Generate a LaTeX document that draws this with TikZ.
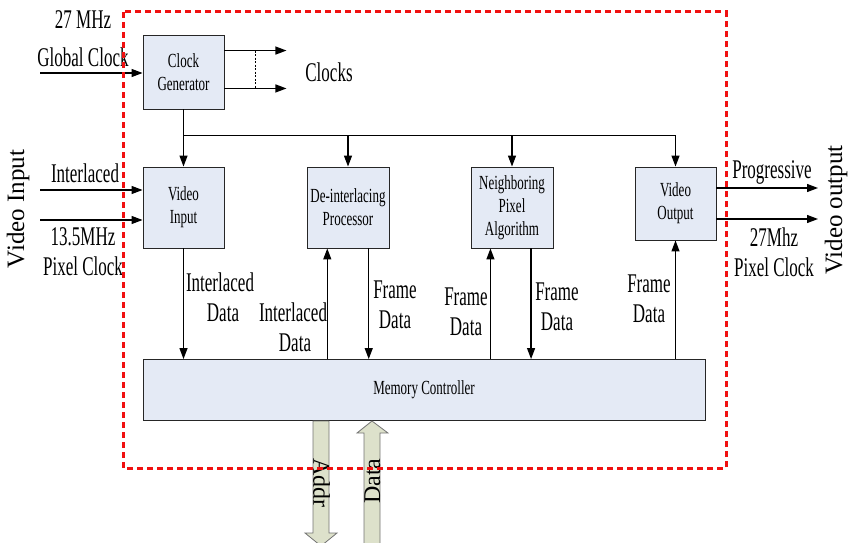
\documentclass[tikz,border=0pt]{standalone}
\usepackage{fontspec}
\setmainfont{Liberation Serif}
\newfontfamily\narrow[FakeStretch=0.63]{Liberation Serif}
\newfontfamily\boxfont[FakeStretch=0.65]{Liberation Serif}
\usetikzlibrary{arrows.meta,calc}
\definecolor{boxfill}{HTML}{E4EAF5}
\definecolor{busfill}{HTML}{DDE1CB}
\definecolor{frame}{HTML}{F01010}

\begin{document}
\begin{tikzpicture}[x=1pt,y=-1pt,
  blk/.style={draw=black!85, fill=boxfill, line width=0.9pt, align=center,
    font=\boxfont\fontsize{20}{23}\selectfont, inner sep=0pt},
  lbl/.style={font=\narrow\fontsize{27}{30}\selectfont, align=center, inner sep=0pt},
  side/.style={font=\fontsize{25}{30}\selectfont, inner sep=0pt, rotate=90},
  arr/.style={-{Triangle[length=11pt,width=8pt]}, line width=1.2pt},
  wire/.style={line width=1.2pt},
  bus/.style={draw=black!55, fill=busfill, line width=0.8pt},
  buslbl/.style={font=\fontsize{24}{28}\selectfont, inner sep=0pt}
]
\useasboundingbox (0,0) rectangle (848,543);

% functional blocks
\node[blk, minimum width=81pt, minimum height=74pt] (cg) at (183.5,72) {Clock\\Generator};
\node[blk, minimum width=81pt, minimum height=81pt] (vin) at (183.5,207.5) {Video\\Input};
\node[blk, minimum width=82pt, minimum height=81pt] (dip) at (348,207.5) {De-interlacing\\Processor};
\node[blk, minimum width=82pt, minimum height=81pt] (npa) at (512,207.5) {Neighboring\\Pixel\\Algorithm};
\node[blk, minimum width=81pt, minimum height=73pt] (vout) at (675.5,203.5) {Video\\Output};
\node[blk, minimum width=562pt, minimum height=61pt] (mc) at (424,390) {Memory Controller};

% clock input and clock outputs
\coordinate (gin) at (40,73);
\draw[arr] (gin) -- (gin -| cg.west);
\coordinate (c1) at ($(cg.north east)+(0,16)$);
\coordinate (c2) at ($(cg.south east)+(0,-21)$);
\coordinate (c1e) at ($(c1)+(62,0)$);
\coordinate (c2e) at ($(c2)+(62,0)$);
\draw[arr] (c1) -- (c1e);
\draw[arr] (c2) -- (c2e);
\coordinate (d1) at ($(c1)+(31,0)$);
\coordinate (d2) at ($(c2)+(31,0)$);
\draw[line width=1pt, dash pattern=on 2pt off 1.5pt] (d1) -- (d2);

% clock distribution bus
\coordinate (busl) at ($(cg.south)+(0,26)$);
\draw[wire] (cg.south) -- (busl) -- (busl -| vout.north);
\draw[arr] (busl) -- (vin.north);
\draw[arr] (busl -| dip.north) -- (dip.north);
\draw[arr] (busl -| npa.north) -- (npa.north);
\draw[arr] (busl -| vout.north) -- (vout.north);

% video input side
\coordinate (vi1) at (40,190);
\coordinate (vi2) at (40,220);
\draw[arr] (vi1) -- (vi1 -| vin.west);
\draw[arr] (vi2) -- (vi2 -| vin.west);

% video output side
\coordinate (vo1) at (818,188);
\coordinate (vo2) at (818,219);
\draw[arr] (vo1 -| vout.east) -- (vo1);
\draw[arr] (vo2 -| vout.east) -- (vo2);

% data paths to and from the memory controller
\draw[arr] (vin.south) -- (vin.south |- mc.north);
\coordinate (p1) at ($(dip.south west)!0.25!(dip.south east)$);
\coordinate (p2) at ($(dip.south west)!0.75!(dip.south east)$);
\draw[arr] (p1 |- mc.north) -- (p1);
\draw[arr] (p2) -- (p2 |- mc.north);
\coordinate (q1) at ($(npa.south west)!0.24!(npa.south east)$);
\coordinate (q2) at ($(npa.south west)!0.73!(npa.south east)$);
\draw[arr] (q1 |- mc.north) -- (q1);
\draw[arr] (q2) -- (q2 |- mc.north);
\draw[arr] (vout.south |- mc.north) -- (vout.south);

% external memory bus arrows
\draw[bus] (313,421) -- (329,421) -- (329,533) -- (337,533) -- (321,546)
  -- (305,533) -- (313,533) -- cycle;
\draw[bus] (364,548) -- (364,433) -- (357,433) -- (372,421) -- (388,433)
  -- (380,433) -- (380,548);
\node[buslbl, rotate=-90] (addr) at (321.5,483) {Addr};
\node[buslbl, rotate=90] (dbus) at (372.5,481) {Data};

% labels
\node[lbl] (l27) at (83,20) {27 MHz};
\node[lbl] (lgc) at (83,57) {Global Clock};
\node[lbl] (lclk) at (329,72) {Clocks};
\node[lbl] (lint) at (85,173) {Interlaced};
\node[lbl] (lpc) at (83,252) {13.5MHz\\Pixel Clock};
\node[lbl] (lprog) at (772,172) {Progressive};
\node[lbl] (lpo) at (774,252) {27Mhz\\Pixel Clock};
\node[side] (svi) at (18,209) {Video Input};
\node[side] (svo) at (836,210) {Video output};

\node[lbl] (d1l) at (220,297) {Interlaced\\\hspace*{6pt}Data};
\node[lbl] (d2l) at (293,327) {Interlaced\\\hspace*{4pt}Data};
\node[lbl] (d3l) at (395,305) {Frame\\Data};
\node[lbl] (d4l) at (466,312) {Frame\\Data};
\node[lbl] (d5l) at (557,307) {Frame\\Data};
\node[lbl] (d6l) at (649,299) {Frame\\Data};

% chip boundary
\draw[frame, line width=3pt, dash pattern=on 6pt off 4pt] (123,12) rectangle (726,468);
\end{tikzpicture}
\end{document}
